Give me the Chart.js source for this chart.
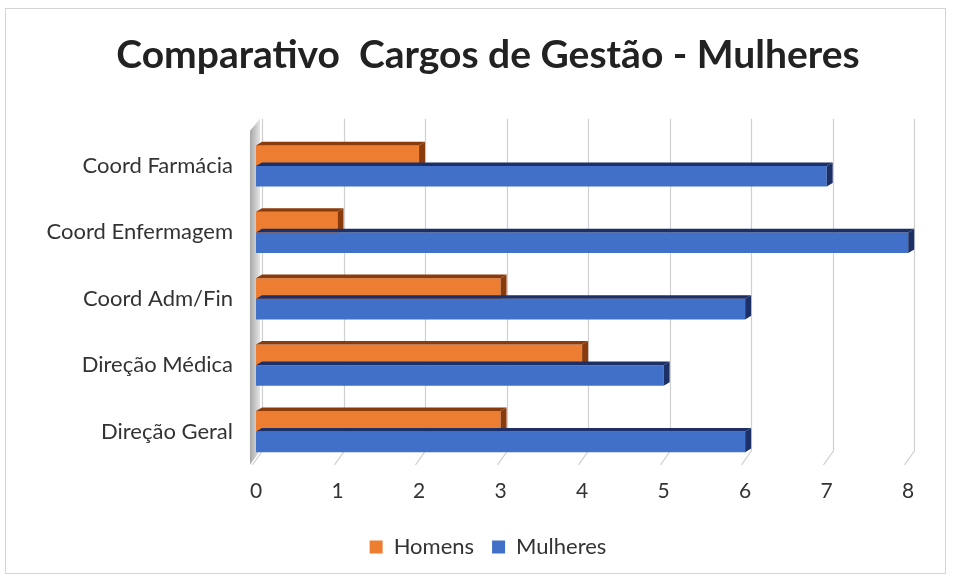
<!DOCTYPE html>
<html>
<head>
<meta charset="utf-8">
<script src="https://cdn.jsdelivr.net/npm/chart.js@4"></script>
<style>
  html, body { margin: 0; padding: 0; background: #fff; }
  #wrap { position: relative; width: 953px; height: 578px; }
  #frame { position: absolute; left: 5px; top: 8px; width: 941px; height: 566px; border: 1px solid #d4d4d4; box-sizing: border-box; pointer-events: none; }
</style>
</head>
<body>
<div id="wrap">
  <canvas id="chart" width="953" height="578"></canvas>
  <div id="frame"></div>
</div>
<script>
// categorias (de cima para baixo)
const cargos = ['Coord Farmácia', 'Coord Enfermagem', 'Coord Adm/Fin', 'Direção Médica', 'Direção Geral'];
const homens = [2, 1, 3, 4, 3];
const mulheres = [7, 8, 6, 5, 6];
const eixoX = [0, 1, 2, 3, 4, 5, 6, 7, 8];

const FONTE = 'Lato, "Open Sans", sans-serif';

// efeito 3D simples: parede esquerda, grade inclinada e lados das barras
const efeito3d = {
  id: 'efeito3d',
  beforeDatasetsDraw(chart) {
    const { ctx, chartArea, scales } = chart;
    const x = scales.x;
    ctx.save();
    // parede esquerda
    const g = ctx.createLinearGradient(chartArea.left - 8, 0, chartArea.left + 4, 0);
    g.addColorStop(0, '#9a9a9a');
    g.addColorStop(1, '#e6e6e6');
    ctx.fillStyle = g;
    ctx.beginPath();
    ctx.moveTo(chartArea.left - 6, chartArea.top - 2);
    ctx.lineTo(chartArea.left + 4, chartArea.top - 14);
    ctx.lineTo(chartArea.left + 4, chartArea.bottom - 14);
    ctx.lineTo(chartArea.left - 6, chartArea.bottom);
    ctx.closePath();
    ctx.fill();
    // linhas de grade
    ctx.strokeStyle = '#d0d0d0';
    ctx.lineWidth = 1.2;
    eixoX.forEach(v => {
      const px = Math.round(x.getPixelForValue(v)) + 0.5;
      ctx.beginPath();
      ctx.moveTo(px + 6, chartArea.top - 14);
      ctx.lineTo(px + 6, chartArea.bottom - 14);
      ctx.lineTo(px - 4, chartArea.bottom);
      ctx.stroke();
    });
    ctx.restore();
  },
  afterDatasetsDraw(chart) {
    const { ctx } = chart;
    const escuros = ['#8a3b0c', '#1c2f66'];
    const d = 6;
    ctx.save();
    chart.data.datasets.forEach((ds, i) => {
      const meta = chart.getDatasetMeta(i);
      meta.data.forEach(bar => {
        const top = bar.y - bar.height / 2;
        const bot = bar.y + bar.height / 2;
        const left = bar.base;
        const right = bar.x;
        ctx.fillStyle = escuros[i];
        // topo
        ctx.beginPath();
        ctx.moveTo(left, top);
        ctx.lineTo(left + d, top - d * 0.6);
        ctx.lineTo(right + d, top - d * 0.6);
        ctx.lineTo(right, top);
        ctx.closePath();
        ctx.fill();
        // lado direito
        ctx.beginPath();
        ctx.moveTo(right, top);
        ctx.lineTo(right + d, top - d * 0.6);
        ctx.lineTo(right + d, bot - d * 0.6);
        ctx.lineTo(right, bot);
        ctx.closePath();
        ctx.fill();
      });
    });
    ctx.restore();
  }
};

new Chart(document.getElementById('chart'), {
  type: 'bar',
  data: {
    labels: cargos,
    datasets: [
      {
        label: 'Homens',
        data: homens,
        backgroundColor: '#ed7d31',
        borderWidth: 0,
        categoryPercentage: 0.62,
        barPercentage: 1.0
      },
      {
        label: 'Mulheres',
        data: mulheres,
        backgroundColor: '#4170c8',
        borderWidth: 0,
        categoryPercentage: 0.62,
        barPercentage: 1.0
      }
    ]
  },
  options: {
    indexAxis: 'y',
    responsive: false,
    animation: false,
    layout: { padding: { left: 36, right: 13, top: 0, bottom: 10 } },
    scales: {
      x: {
        min: 0,
        max: 8.39, // folga à direita, como no original
        afterBuildTicks(scale) { scale.ticks = eixoX.map(v => ({ value: v })); },
        ticks: { color: '#333', font: { family: FONTE, size: 21 }, padding: 14 },
        grid: { display: false, drawTicks: false },
        border: { display: false }
      },
      y: {
        afterFit(scale) { scale.width = 256 - 36; },
        ticks: { color: '#333', font: { family: FONTE, size: 22 }, padding: 23 },
        grid: { display: false, drawTicks: false },
        border: { display: false }
      }
    },
    plugins: {
      title: {
        display: true,
        text: 'Comparativo  Cargos de Gestão - Mulheres',
        color: '#222',
        font: { family: FONTE, size: 39, weight: 'bold' },
        padding: { top: 32, bottom: 54 }
      },
      legend: {
        position: 'bottom',
        labels: {
          color: '#333',
          font: { family: FONTE, size: 22 },
          boxWidth: 13,
          boxHeight: 13,
          padding: 18
        }
      },
      tooltip: { enabled: false }
    }
  },
  plugins: [efeito3d]
});
</script>
</body>
</html>
